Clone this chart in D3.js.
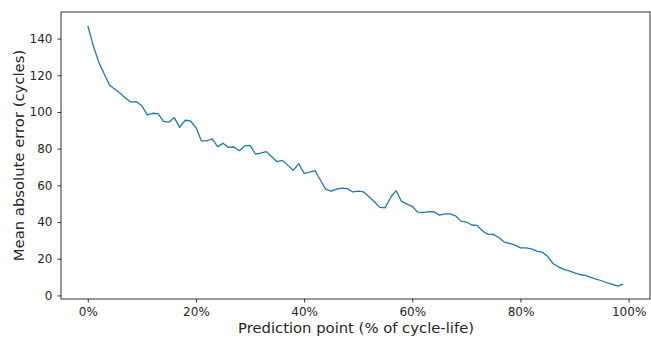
<!DOCTYPE html>
<html>
<head>
<meta charset="utf-8">
<script src="https://cdn.jsdelivr.net/npm/d3@7"></script>
<style>
  body { margin: 0; background: #fff; }
  text { font-family: "DejaVu Sans", sans-serif; fill: #262626; }
</style>
</head>
<body>
<div id="chart"></div>
<script>
// prediction point (% of cycle life) and mean absolute error (cycles)
const predictionPct = d3.range(0, 100);
const meanAbsError = [
  147.0, 136.3, 127.4, 121.0, 114.7, 112.4, 110.2, 107.5, 105.4, 105.6,
  103.4, 98.4, 99.3, 99.1, 94.9, 94.5, 96.9, 91.6, 95.5, 95.1,
  91.5, 84.3, 84.3, 85.4, 81.1, 82.9, 80.7, 80.9, 78.9, 81.5,
  81.8, 77.1, 77.6, 78.4, 75.6, 72.9, 73.6, 70.9, 68.2, 71.8,
  66.5, 67.2, 68.0, 62.9, 57.8, 56.9, 58.0, 58.5, 58.2, 56.4,
  56.9, 56.4, 53.8, 51.1, 48.0, 47.8, 53.5, 57.1, 51.3, 49.8,
  48.5, 45.4, 45.3, 45.6, 45.6, 43.8, 44.5, 44.5, 43.4, 40.5,
  40.0, 38.4, 38.2, 35.1, 33.3, 33.3, 31.6, 29.1, 28.4, 27.4,
  25.9, 25.9, 25.4, 24.2, 23.6, 21.4, 17.4, 15.6, 14.2, 13.4,
  12.3, 11.4, 10.9, 9.8, 8.9, 8.0, 6.9, 6.0, 5.1, 6.2
];
const xTicks = [0, 20, 40, 60, 80, 100];
const yTicks = [0, 20, 40, 60, 80, 100, 120, 140];

const width = 651, height = 337;
const margin = {top: 12, right: 1, bottom: 38, left: 61};

const svg = d3.select('#chart').append('svg')
  .attr('width', width).attr('height', height);

const x = d3.scaleLinear()
  .domain([-4.95, 103.95])
  .range([margin.left, width - margin.right]);
const y = d3.scaleLinear()
  .domain([-1.95, 154.5])
  .range([height - margin.bottom, margin.top]);

const xAxis = svg.append('g')
  .attr('transform', 'translate(0,' + (height - margin.bottom) + ')')
  .call(d3.axisBottom(x).tickValues(xTicks).tickSize(3.5).tickPadding(5)
    .tickFormat(d => d + '%'));
const yAxis = svg.append('g')
  .attr('transform', 'translate(' + margin.left + ',0)')
  .call(d3.axisLeft(y).tickValues(yTicks).tickSize(3.5).tickPadding(5));

[xAxis, yAxis].forEach(g => {
  g.select('.domain').remove();
  g.selectAll('line').attr('stroke', '#000').attr('stroke-width', 0.8);
  g.selectAll('text').attr('font-size', 12).attr('fill', '#262626')
    .style('font-family', '"DejaVu Sans", sans-serif');
});

// frame
svg.append('rect')
  .attr('x', margin.left).attr('y', margin.top)
  .attr('width', width - margin.right - margin.left)
  .attr('height', height - margin.bottom - margin.top)
  .attr('fill', 'none').attr('stroke', '#000').attr('stroke-width', 0.8);

const line = d3.line()
  .x((d, i) => x(predictionPct[i]))
  .y(d => y(d));

svg.append('path')
  .datum(meanAbsError)
  .attr('d', line)
  .attr('fill', 'none')
  .attr('stroke', '#1f77b4')
  .attr('stroke-width', 1.3)
  .attr('stroke-linejoin', 'round');

svg.append('text')
  .attr('x', 356)
  .attr('y', 333)
  .attr('text-anchor', 'middle')
  .attr('font-size', 14.8)
  .text('Prediction point (% of cycle-life)');

svg.append('text')
  .attr('transform', 'translate(24,' + ((margin.top + height - margin.bottom) / 2) + ') rotate(-90)')
  .attr('text-anchor', 'middle')
  .attr('font-size', 14.8)
  .text('Mean absolute error (cycles)');
</script>
</body>
</html>
